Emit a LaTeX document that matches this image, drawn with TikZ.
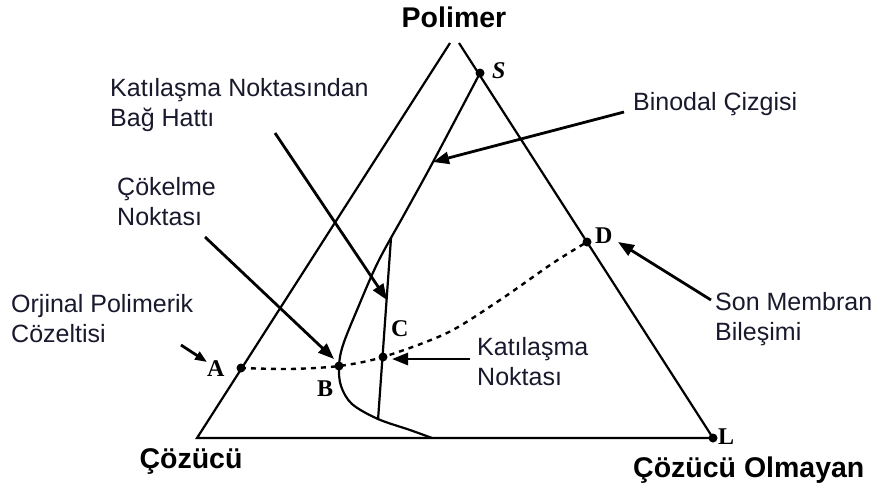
\documentclass[tikz,border=0pt]{standalone}
\usepackage{fontspec}
\setmainfont{Liberation Sans}
\newfontfamily\ptfont{Liberation Serif}
\usetikzlibrary{arrows.meta}
\begin{document}
\begin{tikzpicture}[x=1pt,y=-1pt,
  lbl/.style={anchor=base west,inner sep=0,font=\fontsize{25}{30}\selectfont,text={rgb,255:red,25;green,25;blue,45}},
  corner/.style={font=\fontsize{28.5}{34}\selectfont\bfseries,inner sep=0,anchor=base},
  ptlbl/.style={font=\ptfont\bfseries\fontsize{24}{26}\selectfont,inner sep=0,anchor=base west},
  edge/.style={line width=2.2pt,line join=miter},
  pointer/.style={line width=2.8pt,-{Triangle[length=16pt,width=12pt]}},
  dot/.style={circle,fill=black,inner sep=0,minimum size=9pt},
  trail/.style={line width=2.4pt,dash pattern=on 5pt off 5pt}]
\useasboundingbox[fill=white] (0,0) rectangle (874,490);

% triangle
\coordinate (top1) at (450,43);
\coordinate (top2) at (459,43);
\coordinate (bl) at (197,438);
\coordinate (L) at (713,438);
\draw[edge] (top1) -- (bl) -- (L) -- (top2);

% points
\coordinate (S) at (480,73);
\coordinate (D) at (587,242);
\coordinate (A) at (241,368);
\coordinate (B) at (339,366);
\coordinate (C) at (383,357);

% binodal curve
\draw[edge] plot[smooth,tension=0.55] coordinates {(S) (433,162) (405,213) (378,262) (357,310) (343,345) (B) (341,386) (352,404) (378,419) (410,430) (432,438)};

% tie line
\coordinate (tieT) at (391,238);
\coordinate (tieB) at (378,420);
\draw[edge] (tieT) -- (tieB);

% composition path
\draw[trail] plot[smooth,tension=0.5] coordinates {(A) (290,369) (B) (C) (447,333) (500,300) (553,263) (D)};

% dots
\foreach \p in {S,D,A,B,C,L} \node[dot] at (\p) {};

% point labels
\node[ptlbl,font=\ptfont\bfseries\itshape\fontsize{24}{26}\selectfont] (lS) at (492,78) {S};
\node[ptlbl] (lD) at (595,243) {D};
\node[ptlbl] (lA) at (207,376) {A};
\node[ptlbl] (lB) at (317,396) {B};
\node[ptlbl] (lC) at (391,336) {C};
\node[ptlbl] (lL) at (718,444) {L};

% corner labels
\node[corner] (pol) at (454,27) {Polimer};
\node[corner] (coz) at (191,468) {Çözücü};
\node[corner,anchor=base west] (non) at (633,477) {Çözücü Olmayan};

% descriptive labels
\node[lbl] (k1) at (110,96) {Katılaşma Noktasından};
\node[lbl] (k2) at (110,126) {Bağ Hattı};
\node[lbl] (c1) at (117,195) {Çökelme};
\node[lbl] (c2) at (117,225) {Noktası};
\node[lbl] (o1) at (11,312) {Orjinal Polimerik};
\node[lbl] (o2) at (11,342) {Cözeltisi};
\node[lbl] (s1) at (477,355) {Katılaşma};
\node[lbl] (s2) at (477,385) {Noktası};
\node[lbl] (b1) at (633,110) {Binodal Çizgisi};
\node[lbl] (m1) at (715,310) {Son Membran};
\node[lbl] (m2) at (715,340) {Bileşimi};

% pointers
\coordinate (t1) at (275,133); \coordinate (h1) at (387,300);
\coordinate (t2) at (205,237); \coordinate (h2) at (334,359);
\coordinate (t3) at (181,345); \coordinate (h3) at (207,362);
\coordinate (t4) at (470,359); \coordinate (h4) at (392,359);
\coordinate (t5) at (711,300); \coordinate (h5) at (618,242);
\coordinate (t6) at (624,112); \coordinate (h6) at (433,162);
\draw[pointer] (t1) -- (h1);
\draw[pointer] (t2) -- (h2);
\draw[pointer,-{Triangle[length=12pt,width=9pt]}] (t3) -- (h3);
\draw[pointer] (t4) -- (h4);
\draw[pointer] (t5) -- (h5);
\draw[pointer] (t6) -- (h6);
\end{tikzpicture}
\end{document}
